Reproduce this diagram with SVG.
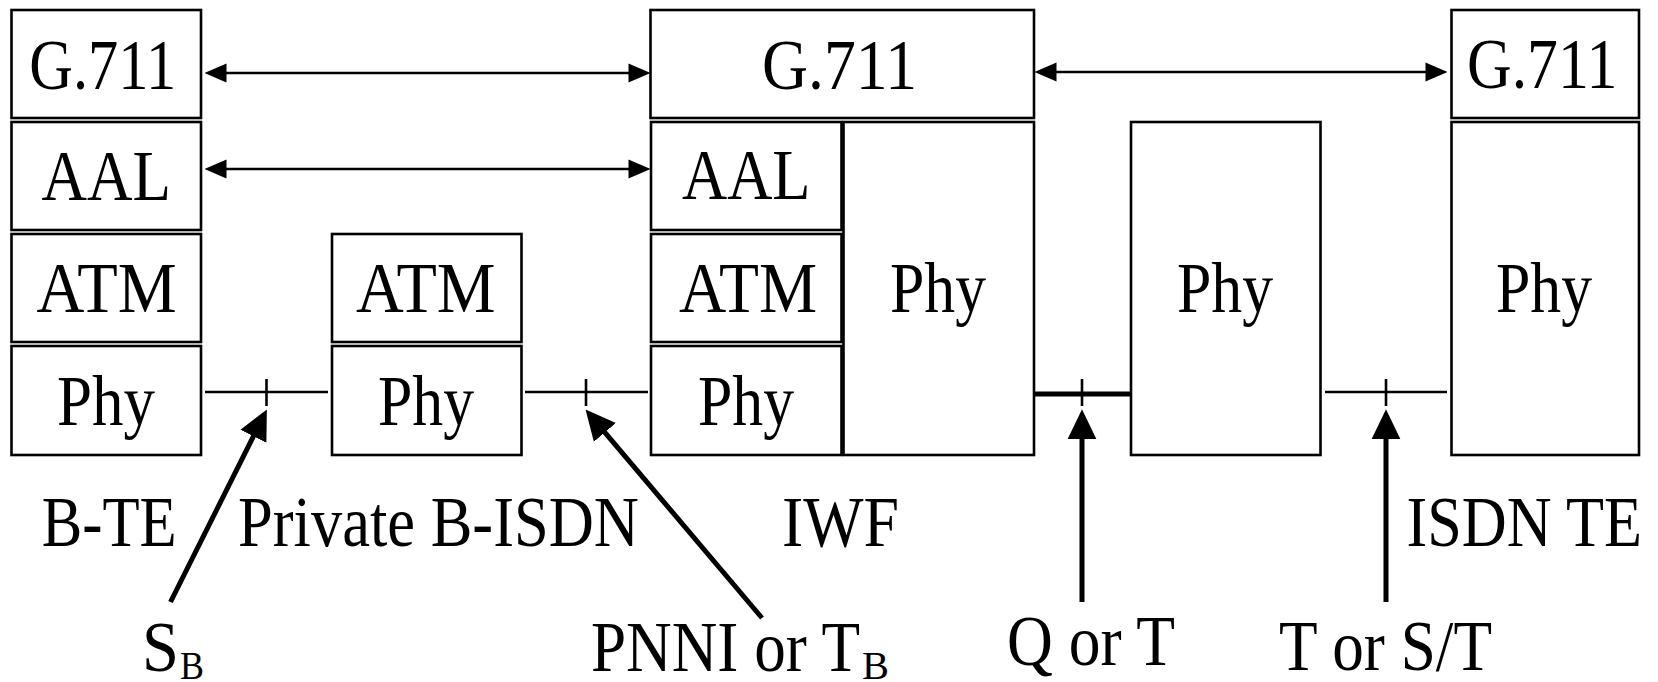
<svg xmlns="http://www.w3.org/2000/svg" width="1658" height="682" viewBox="0 0 1658 682">
<style>
.box{fill:#fff;stroke:#000;stroke-width:2.6}
.t{font-family:"Liberation Serif","Times New Roman",serif;font-size:71px;fill:#000}
.s{font-family:"Liberation Serif","Times New Roman",serif;font-size:40px;fill:#000}
.ln{stroke:#000;stroke-width:2.6;fill:none}
.thick{stroke:#000;stroke-width:5;fill:none}
.da{stroke:#000;stroke-width:2.6;fill:none;marker-start:url(#sh);marker-end:url(#sh)}
.ar{stroke:#000;stroke-width:5;fill:none;marker-end:url(#bh)}
</style>
<defs>
<marker id="sh" markerUnits="userSpaceOnUse" markerWidth="22" markerHeight="20" viewBox="0 0 21 18" refX="11" refY="9" orient="auto-start-reverse"><path d="M0,0 L21,9 L0,18 z" fill="#000"/></marker>
<marker id="bh" markerUnits="userSpaceOnUse" markerWidth="30" markerHeight="30" viewBox="0 0 29 28" refX="9" refY="14" orient="auto"><path d="M0,0 L29,14 L0,28 z" fill="#000"/></marker>
</defs>
<rect width="1658" height="682" fill="#fff"/>
<g id="bte">
<rect class="box" x="11.5" y="10" width="189.5" height="108"/>
<rect class="box" x="11.5" y="122" width="189.5" height="108"/>
<rect class="box" x="11.5" y="234" width="189.5" height="108"/>
<rect class="box" x="11.5" y="346" width="189.5" height="109"/>
<text class="t" x="29.3" y="89" textLength="147" lengthAdjust="spacingAndGlyphs">G.711</text>
<text class="t" x="41.5" y="200" textLength="129.5" lengthAdjust="spacingAndGlyphs">AAL</text>
<text class="t" x="36.6" y="312" textLength="140" lengthAdjust="spacingAndGlyphs">ATM</text>
<text class="t" x="57" y="425" textLength="98" lengthAdjust="spacingAndGlyphs">Phy</text>
<text class="t" x="41.7" y="546" textLength="135" lengthAdjust="spacingAndGlyphs">B-TE</text>
</g>
<g id="private">
<rect class="box" x="332" y="234" width="189.5" height="108"/>
<rect class="box" x="332" y="346" width="189.5" height="109"/>
<text class="t" x="356" y="312" textLength="139.5" lengthAdjust="spacingAndGlyphs">ATM</text>
<text class="t" x="378" y="425" textLength="96" lengthAdjust="spacingAndGlyphs">Phy</text>
<text class="t" x="238" y="546" textLength="401" lengthAdjust="spacingAndGlyphs">Private B-ISDN</text>
</g>
<g id="iwf">
<rect class="box" x="650.5" y="10" width="383.5" height="108"/>
<rect class="box" x="651" y="122" width="190.5" height="108"/>
<rect class="box" x="651" y="234" width="190.5" height="108"/>
<rect class="box" x="651" y="346" width="190.5" height="109"/>
<rect class="box" x="843.5" y="122" width="190.5" height="333"/>
<text class="t" x="762" y="88.5" textLength="155" lengthAdjust="spacingAndGlyphs">G.711</text>
<text class="t" x="682" y="199" textLength="128.5" lengthAdjust="spacingAndGlyphs">AAL</text>
<text class="t" x="679" y="312" textLength="138" lengthAdjust="spacingAndGlyphs">ATM</text>
<text class="t" x="698" y="425" textLength="96" lengthAdjust="spacingAndGlyphs">Phy</text>
<text class="t" x="890" y="312" textLength="96" lengthAdjust="spacingAndGlyphs">Phy</text>
<text class="t" x="782" y="546" textLength="117" lengthAdjust="spacingAndGlyphs">IWF</text>
</g>
<g id="mid">
<rect class="box" x="1131" y="122" width="189.5" height="333"/>
<text class="t" x="1177" y="312" textLength="96" lengthAdjust="spacingAndGlyphs">Phy</text>
</g>
<g id="isdnte">
<rect class="box" x="1451.5" y="10" width="187.5" height="108"/>
<rect class="box" x="1451.5" y="122" width="187.5" height="333"/>
<text class="t" x="1467" y="88" textLength="150.5" lengthAdjust="spacingAndGlyphs">G.711</text>
<text class="t" x="1496" y="312" textLength="96" lengthAdjust="spacingAndGlyphs">Phy</text>
<text class="t" x="1406.5" y="546" textLength="235.5" lengthAdjust="spacingAndGlyphs">ISDN TE</text>
</g>
<g id="connectors">
<line class="da" x1="215" y1="73" x2="640" y2="73"/>
<line class="da" x1="215" y1="169" x2="640" y2="169"/>
<line class="da" x1="1045" y1="72" x2="1437" y2="72"/>
<line class="ln" x1="205" y1="392" x2="328" y2="392"/>
<line class="ln" x1="266.5" y1="379" x2="266.5" y2="406"/>
<line class="ln" x1="525" y1="392" x2="648" y2="392"/>
<line class="ln" x1="586" y1="379" x2="586" y2="406"/>
<line class="thick" x1="1034" y1="394" x2="1131" y2="394"/>
<line class="ln" x1="1082" y1="379" x2="1082" y2="406"/>
<line class="ln" x1="1325" y1="392" x2="1447" y2="392"/>
<line class="ln" x1="1386" y1="379" x2="1386" y2="406"/>
<line class="ar" x1="170.5" y1="602" x2="257.6" y2="427.9"/>
<line class="ar" x1="762" y1="618" x2="598.9" y2="425.3"/>
<line class="ar" x1="1082" y1="602" x2="1082" y2="430"/>
<line class="ar" x1="1386" y1="602" x2="1386" y2="430"/>
</g>
<g id="labels">
<text class="t" x="142" y="671" textLength="37" lengthAdjust="spacingAndGlyphs">S</text>
<text class="s" x="180" y="679" textLength="24" lengthAdjust="spacingAndGlyphs">B</text>
<text class="t" x="591" y="671" textLength="269" lengthAdjust="spacingAndGlyphs">PNNI or T</text>
<text class="s" x="862" y="679" textLength="27" lengthAdjust="spacingAndGlyphs">B</text>
<text class="t" x="1007" y="665" textLength="168" lengthAdjust="spacingAndGlyphs">Q or T</text>
<text class="t" x="1279" y="670" textLength="213" lengthAdjust="spacingAndGlyphs">T or S/T</text>
</g>
</svg>
